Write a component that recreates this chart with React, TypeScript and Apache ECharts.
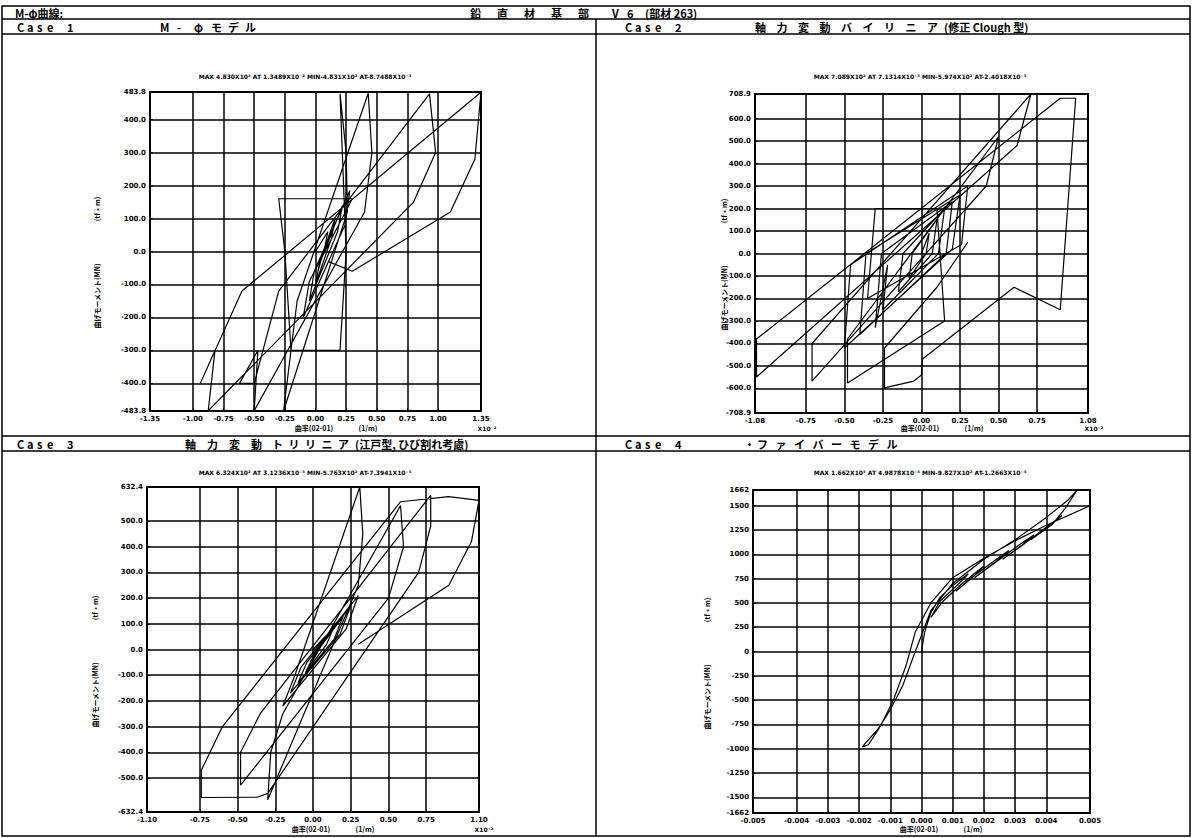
import React, { useEffect, useRef } from "react";
import * as echarts from "echarts";

// ---------- Case 1 : M-φ model ----------
const c1Title = "MAX 4.830X10² AT 1.3489X10⁻² MIN-4.831X10² AT-8.7488X10⁻³";
const c1XTicks = [-1.35, -1.0, -0.75, -0.5, -0.25, 0, 0.25, 0.5, 0.75, 1.0, 1.35];
const c1YTicks = [-483.8, -400, -300, -200, -100, 0, 100, 200, 300, 400, 483.8];
const c1Curve = [
  [0, 0], [0.1, 60], [0.08, 20], [0.02, -60], [0.04, -25], [0.16, 100], [0.13, 40], [0.0, -100],
  [0.03, -40], [0.22, 140], [0.18, 60], [-0.05, -150], [-0.01, -60], [0.28, 185], [0.24, 80],
  [-0.1, -200], [-0.05, -90], [0.3, 160], [-0.3, 160], [-0.25, 0], [-0.2, -300], [0.2, -300],
  [0.25, 0], [0.2, 478], [0.25, 300], [0.26, 120], [-0.26, -483], [-0.2, -300], [-0.15, -150],
  [0.43, 480], [0.46, 300], [0.4, 120], [-0.5, -483], [-0.47, -300], [-0.62, -400], [-0.5, -400],
  [-0.3, -120], [0.93, 478], [0.98, 300], [0.8, 150], [-0.875, -483.1], [-0.82, -300], [-0.94, -400],
  [-0.6, -120], [1.35, 483], [1.3, 280], [1.1, 120], [0.3, -60], [0.1, -30],
];

// ---------- Case 2 : bilinear (modified Clough) ----------
const c2Title = "MAX 7.089X10² AT 7.1314X10⁻³ MIN-5.974X10² AT-2.4018X10⁻³";
const c2XTicks = [-1.08, -0.75, -0.5, -0.25, 0, 0.25, 0.5, 0.75, 1.08];
const c2YTicks = [-708.9, -600, -500, -400, -300, -200, -100, 0, 100, 200, 300, 400, 500, 600, 708.9];
const c2Curve = [
  [0, 0], [0.05, 90], [0.03, 0], [-0.08, -110], [-0.06, 0], [0.1, 150], [0.07, 0], [-0.15, -170],
  [-0.12, 0], [0.15, 200], [0.11, 0], [-0.25, -250], [-0.22, -50], [-0.3, -330], [-0.26, 0],
  [0.2, 230], [0.16, 0], [-0.4, -360], [-0.36, 0], [0.25, 260], [0.2, 20], [-0.5, -420],
  [-0.46, -50], [0.3, 300], [0.26, 40], [-0.35, -200], [-0.3, 200], [0.1, 200], [0.15, -300],
  [-0.48, -576], [-0.48, -380], [0.5, 520], [0.42, 300], [-0.71, -567], [-0.71, -400],
  [0.71, 708.9], [0.62, 480], [-1.07, -549], [-1.07, -380], [0.9, 690], [1.0, 690], [0.9, -250],
  [0.6, -150], [0.005, -470], [0, -540], [-0.05, -567], [-0.24, -597], [-0.24, -420], [0.1, -150],
  [0.3, 50],
];

// ---------- Case 3 : trilinear (Edo type) ----------
const c3Title = "MAX 6.324X10² AT 3.1236X10⁻³ MIN-5.763X10² AT-7.3941X10⁻³";
const c3XTicks = [-1.1, -0.75, -0.5, -0.25, 0, 0.25, 0.5, 0.75, 1.1];
const c3YTicks = [-632.4, -500, -400, -300, -200, -100, 0, 100, 200, 300, 400, 500, 632.4];
const c3Curve = [
  [0, 0], [0.08, 50], [0.04, 0], [-0.02, -50], [0.02, -10], [0.14, 90], [0.09, 20], [-0.05, -90],
  [0.0, -30], [0.2, 130], [0.14, 40], [-0.1, -130], [-0.04, -50], [0.25, 170], [0.18, 60],
  [-0.15, -170], [-0.08, -70], [0.3, 210], [0.22, 80], [-0.2, -220], [-0.12, -100], [0.31, 632.4],
  [0.33, 450], [0.3, 250], [-0.3, -585], [-0.28, -400], [-0.2, -250], [0.58, 560], [0.6, 400],
  [0.5, 200], [-0.48, -528], [-0.48, -400], [-0.35, -250], [0.78, 600], [0.78, 480], [0.7, 300],
  [-0.3, -560], [-0.37, -575], [-0.74, -576], [-0.74, -470], [-0.6, -300], [0.58, 575],
  [0.9, 595], [1.1, 580], [1.05, 420], [0.9, 250], [0.3, 20],
];

// ---------- Case 4 : fiber model ----------
const c4Title = "MAX 1.662X10³ AT 4.9878X10⁻³ MIN-9.827X10² AT-1.2663X10⁻³";
const c4XTicks = [-0.0054, -0.004, -0.003, -0.002, -0.001, 0, 0.001, 0.002, 0.003, 0.004, 0.0054];
const c4YTicks = [-1662, -1500, -1250, -1000, -750, -500, -250, 0, 250, 500, 750, 1000, 1250, 1500, 1662];
const c4Curve = [
  [0, 0], [0.0001, 200], [0.0003, 400], [0.0006, 560], [0.001, 680], [0.0015, 800], [0.0012, 700],
  [0.0006, 520], [0.0003, 350], [0.0007, 520], [0.0013, 700], [0.002, 880], [0.0017, 780],
  [0.0011, 620], [0.0016, 760], [0.0024, 950], [0.0028, 1040], [0.0024, 930], [0.0017, 760],
  [0.0023, 900], [0.0031, 1090], [0.0036, 1200], [0.0032, 1090], [0.0026, 950], [0.0033, 1110],
  [0.004, 1280], [0.0045, 1400], [0.0041, 1290], [0.0035, 1150], [0.0042, 1310], [0.0046, 1470],
  [0.00499, 1662], [0.0047, 1560], [0.004, 1380], [0.003, 1150], [0.002, 950], [0.001, 700],
  [0.0003, 420], [-0.0002, 0], [-0.0006, -350], [-0.001, -600], [-0.0014, -800], [-0.0019, -982],
  [-0.0017, -960], [-0.0013, -760], [-0.0009, -500], [-0.0005, -150], [-0.0002, 200], [0.0003, 500],
  [0.001, 760], [0.002, 960], [0.003, 1140], [0.004, 1300], [0.0054, 1500],
];

const fmt = (v: number, d: number) => {
  const s = Math.abs(v).toFixed(d);
  return (v < -1e-12 ? "-" : "") + s;
};

const BLACK = "#000";

function spaced(text: string, x: number, y: number, pitch: number, font: string) {
  return Array.from(text).map((ch, i) => ({
    type: "text",
    x: x + i * pitch,
    y,
    silent: true,
    style: { text: ch, font, fill: BLACK, align: "left", verticalAlign: "middle" },
  }));
}

function txt(text: string, x: number, y: number, font: string, align = "left", rotation = 0) {
  return {
    type: "text",
    x,
    y,
    rotation,
    silent: true,
    style: { text, font, fill: BLACK, align, verticalAlign: "middle" },
  };
}

function line(x1: number, y1: number, x2: number, y2: number, w = 1.5) {
  return { type: "line", silent: true, shape: { x1, y1, x2, y2 }, style: { stroke: BLACK, lineWidth: w } };
}

export default function App() {
  const ref = useRef<HTMLDivElement>(null);

  useEffect(() => {
    if (!ref.current) return;
    const chart = echarts.init(ref.current, undefined, { renderer: "svg" });

    const panels = [
      { grid: { left: 150, top: 92, width: 331, height: 319 }, xt: c1XTicks, yt: c1YTicks, xd: 2, yd: 1, data: c1Curve },
      { grid: { left: 755, top: 94, width: 333, height: 319 }, xt: c2XTicks, yt: c2YTicks, xd: 2, yd: 1, data: c2Curve },
      { grid: { left: 147, top: 487, width: 332, height: 325 }, xt: c3XTicks, yt: c3YTicks, xd: 2, yd: 1, data: c3Curve },
      { grid: { left: 753, top: 490, width: 337, height: 323 }, xt: c4XTicks, yt: c4YTicks, xd: 3, yd: 0, data: c4Curve },
    ];

    const labelStyle = { fontSize: 7, fontWeight: "bold", color: BLACK, fontFamily: "DejaVu Sans" };

    const grid = panels.map((p) => ({
      ...p.grid,
      show: true,
      borderColor: BLACK,
      borderWidth: 2,
      backgroundColor: "transparent",
      containLabel: false,
    }));

    const xAxis = panels.map((p, i) => ({
      type: "value",
      gridIndex: i,
      position: "bottom",
      min: p.xt[0],
      max: p.xt[p.xt.length - 1],
      axisLine: { show: false, onZero: false },
      splitLine: { show: false },
      axisTick: { show: true, customValues: p.xt, length: 3, inside: true, lineStyle: { color: BLACK } },
      axisLabel: { ...labelStyle, customValues: p.xt, margin: 4, formatter: (v: number) => fmt(v, p.xd) },
    }));

    const yAxis = panels.map((p, i) => ({
      type: "value",
      gridIndex: i,
      position: "left",
      min: p.yt[0],
      max: p.yt[p.yt.length - 1],
      axisLine: { show: false, onZero: false },
      splitLine: { show: false },
      axisTick: { show: true, customValues: p.yt, length: 3, inside: true, lineStyle: { color: BLACK } },
      axisLabel: { ...labelStyle, customValues: p.yt, margin: 4, formatter: (v: number) => fmt(v, p.yd) },
    }));

    const series = panels.map((p, i) => {
      const x0 = p.xt[0], x1 = p.xt[p.xt.length - 1];
      const y0 = p.yt[0], y1 = p.yt[p.yt.length - 1];
      return {
        type: "line",
        xAxisIndex: i,
        yAxisIndex: i,
        data: p.data,
        showSymbol: false,
        symbol: "none",
        clip: true,
        lineStyle: { color: BLACK, width: 1.2 },
        markLine: {
          silent: true,
          symbol: "none",
          label: { show: false },
          lineStyle: { color: BLACK, width: 1.5, type: "solid" },
          data: [
            ...p.xt.slice(1, -1).map((v) => [{ coord: [v, y0] }, { coord: [v, y1] }]),
            ...p.yt.slice(1, -1).map((v) => [{ coord: [x0, v] }, { coord: [x1, v] }]),
          ],
        },
      };
    });

    const hdr = 'bold 11px "Noto Sans CJK JP"';
    const small = 'bold 6px "DejaVu Sans"';
    const smallJ = 'bold 7px "Noto Sans CJK JP"';

    const graphics: any[] = [
      { type: "rect", silent: true, shape: { x: 2, y: 6, width: 1188, height: 830 }, style: { fill: "none", stroke: BLACK, lineWidth: 1.5 } },
      line(2, 19, 1190, 19),
      line(2, 34, 1190, 34),
      line(2, 436, 1190, 436),
      line(2, 451, 1190, 451),
      line(596, 19, 596, 836),
      txt("M-φ曲線:", 15, 12.5, hdr),
      ...spaced("鉛直材基部", 470, 12.5, 27, hdr),
      ...spaced("V6", 612, 12.5, 15, hdr),
      txt("(部材 263)", 645, 12.5, hdr),
      ...spaced("Case 1", 17, 26.5, 10, hdr),
      ...spaced("M-φモデル", 160, 26.5, 17, hdr),
      ...spaced("Case 2", 625, 26.5, 10, hdr),
      ...spaced("軸力変動バイリニア", 755, 26.5, 21.5, hdr),
      txt("(修正 Clough 型)", 944, 26.5, hdr),
      ...spaced("Case 3", 17, 443.5, 10, hdr),
      ...spaced("軸力変動", 185, 443.5, 22, hdr),
      ...spaced("トリリニア", 272, 443.5, 16.5, hdr),
      txt("(江戸型, ひび割れ考慮)", 355, 443.5, hdr),
      ...spaced("Case 4", 625, 443.5, 10, hdr),
      txt("・", 744, 443.5, hdr),
      ...spaced("ファイバーモデル", 757, 443.5, 18.5, hdr),
      txt(c1Title, 305, 76, small, "center"),
      txt(c2Title, 920, 76, small, "center"),
      txt(c3Title, 305, 472, small, "center"),
      txt(c4Title, 920, 472, small, "center"),
    ];

    const nameInfo = [
      { cx: 316, ny: 428, yx: 97, yc: 251, exp: "X10⁻²", ex: 487 },
      { cx: 922, ny: 428, yx: 724, yc: 253, exp: "X10⁻²", ex: 1094 },
      { cx: 313, ny: 829, yx: 95, yc: 650, exp: "X10⁻²", ex: 484 },
      { cx: 921, ny: 829, yx: 707, yc: 652, exp: "", ex: 0 },
    ];
    nameInfo.forEach((n) => {
      graphics.push(txt("曲率(02-01)", n.cx - 2, n.ny, smallJ, "center"));
      graphics.push(txt("(1/m)", n.cx + 52, n.ny, smallJ, "center"));
      if (n.exp) graphics.push(txt(n.exp, n.ex, n.ny, small, "center"));
      graphics.push(txt("(tf・m)", n.yx, n.yc - 42, smallJ, "center", Math.PI / 2));
      graphics.push(txt("曲げモーメント(MN)", n.yx, n.yc + 45, smallJ, "center", Math.PI / 2));
    });

    chart.setOption({
      animation: false,
      backgroundColor: "#fff",
      grid,
      xAxis,
      yAxis,
      series,
      graphic: graphics,
    });

    return () => chart.dispose();
  }, []);

  return (
    <div
      ref={ref}
      style={{ position: "fixed", left: 0, top: 0, width: 1193, height: 838, background: "#fff" }}
    />
  );
}
